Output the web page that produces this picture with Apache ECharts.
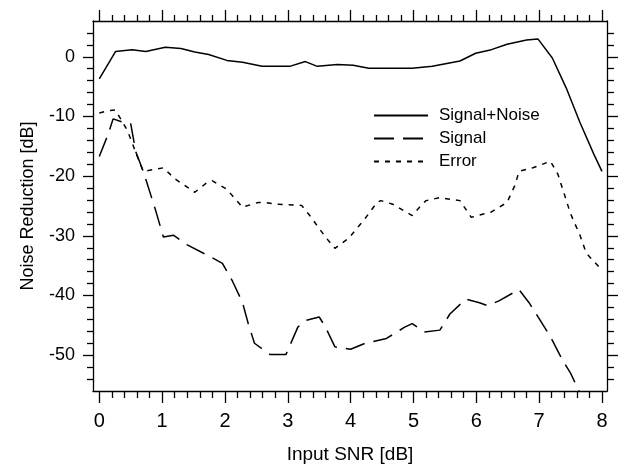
<!DOCTYPE html>
<html>
<head>
<meta charset="utf-8">
<script src="https://cdn.jsdelivr.net/npm/echarts@6/dist/echarts.min.js"></script>
<style>
  html, body { margin: 0; padding: 0; background: #fff; }
  #chart { width: 622px; height: 471px; }
</style>
</head>
<body>
<div id="chart"></div>
<script>
// Courbes (x = Input SNR, y = Noise Reduction)
const snX = [0, 0.26, 0.52, 0.74, 1.05, 1.3, 1.52, 1.74, 2.03, 2.28, 2.59, 3.03, 3.28, 3.47, 3.79, 4.04, 4.29, 4.6, 4.98, 5.3, 5.74, 5.99, 6.24, 6.49, 6.8, 6.98, 7.21, 7.43, 7.65, 7.87, 8.0];
const snY = [-3.7, 0.9, 1.2, 0.9, 1.6, 1.4, 0.8, 0.4, -0.6, -0.9, -1.6, -1.6, -0.8, -1.6, -1.3, -1.4, -1.9, -1.9, -1.9, -1.6, -0.7, 0.6, 1.2, 2.1, 2.8, 3.0, -0.2, -5.2, -11.0, -16.3, -19.2];

const sigX = [0, 0.14, 0.22, 0.36, 0.5, 0.58, 0.7, 0.89, 1.02, 1.18, 1.4, 1.71, 1.96, 2.12, 2.28, 2.37, 2.47, 2.72, 2.97, 3.16, 3.28, 3.5, 3.6, 3.75, 4.0, 4.23, 4.57, 4.86, 4.98, 5.17, 5.42, 5.58, 5.83, 6.05, 6.18, 6.36, 6.68, 6.84, 7.18, 7.37, 7.5, 7.7];
const sigY = [-16.7, -13, -10.4, -10.9, -11.2, -15.9, -19.2, -25.5, -30.2, -29.9, -31.5, -33.2, -34.6, -37.6, -41.2, -44.7, -48.0, -49.9, -49.9, -45.3, -44.2, -43.6, -45.3, -48.6, -49.0, -48.0, -47.2, -45.3, -44.7, -46.1, -45.8, -43.1, -40.6, -41.2, -41.7, -40.9, -39.0, -41.2, -46.9, -50.8, -53.0, -57.5];

const errX = [0, 0.15, 0.25, 0.3, 0.45, 0.58, 0.7, 1.02, 1.21, 1.52, 1.71, 1.8, 2.03, 2.28, 2.53, 2.62, 2.84, 3.22, 3.35, 3.6, 3.75, 3.97, 4.23, 4.42, 4.48, 4.67, 4.98, 5.14, 5.2, 5.42, 5.74, 5.92, 6.24, 6.49, 6.62, 6.68, 6.9, 7.18, 7.3, 7.4, 7.5, 7.65, 7.75, 7.97];
const errY = [-9.4, -9.0, -8.9, -9.7, -12.4, -16, -19.2, -18.6, -20.5, -22.7, -21.1, -20.8, -22.2, -25.2, -24.4, -24.4, -24.7, -24.9, -26.6, -30.2, -32.1, -30.4, -27.1, -24.4, -24.1, -24.7, -26.6, -24.7, -24.1, -23.6, -24.1, -26.9, -26, -24.4, -21.4, -19.2, -18.6, -17.5, -19.7, -23, -26.3, -29.9, -32.9, -35.4];

const seriesNames = ['Signal+Noise', 'Signal', 'Error'];

// Graduations
const xTicks = [0, 1, 2, 3, 4, 5, 6, 7, 8];
const yTicks = [0, -10, -20, -30, -40, -50];
const xMinor = [];
for (let i = 1; i < 40; i++) if (i % 5) xMinor.push(i / 5);
const yMinor = [];
for (let v = -54; v <= 4; v += 2) if (v % 10) yMinor.push(v);

const FONT = '"Liberation Sans", Arial, Helvetica, sans-serif';
const X_RANGE = [-0.1, 8.08];
const Y_RANGE = [-56, 6];

const pairs = (xs, ys) => xs.map((x, i) => [x, ys[i]]);

// Un axe x (haut ou bas) avec des graduations personnalisées
function xAxisAt(position, ticks, len, withLine, withLabels) {
    return {
        type: 'value', position: position,
        min: X_RANGE[0], max: X_RANGE[1],
        axisLine: { show: withLine, onZero: false, lineStyle: { color: '#000', width: 1.3 } },
        axisTick: { show: true, customValues: ticks, length: len, lineStyle: { color: '#000', width: 1.3 } },
        axisLabel: withLabels
            ? { show: true, customValues: ticks, margin: 20, color: '#000', fontSize: 20, fontFamily: FONT }
            : { show: false },
        splitLine: { show: false },
        name: withLabels ? 'Input SNR [dB]' : '',
        nameLocation: 'middle', nameGap: 54,
        nameTextStyle: { color: '#000', fontSize: 19, fontFamily: FONT }
    };
}

function yAxisAt(position, ticks, len, withLine, withLabels) {
    return {
        type: 'value', position: position,
        min: Y_RANGE[0], max: Y_RANGE[1],
        axisLine: { show: withLine, onZero: false, lineStyle: { color: '#000', width: 1.3 } },
        axisTick: { show: true, customValues: ticks, length: len, lineStyle: { color: '#000', width: 1.3 } },
        axisLabel: withLabels
            ? { show: true, customValues: ticks, margin: 18, color: '#000', fontSize: 18, fontFamily: FONT }
            : { show: false },
        splitLine: { show: false },
        name: withLabels ? 'Noise Reduction [dB]' : '',
        nameLocation: 'middle', nameGap: 56,
        nameTextStyle: { color: '#000', fontSize: 18, fontFamily: FONT }
    };
}

function lineSeries(name, data, dash) {
    return {
        name: name, type: 'line', data: data,
        xAxisIndex: 0, yAxisIndex: 0,
        symbol: 'none', smooth: false, clip: true,
        lineStyle: { color: '#000', width: 1.5, type: dash },
        itemStyle: { color: '#000' }
    };
}

const chart = echarts.init(document.getElementById('chart'), null, { renderer: 'canvas' });
chart.setOption({
    animation: false,
    backgroundColor: '#fff',
    grid: { left: 93, right: 15, top: 21, bottom: 80, containLabel: false },
    legend: {
        orient: 'vertical', left: 368, top: 102,
        itemWidth: 54, itemHeight: 14, itemGap: 6,
        data: seriesNames,
        itemStyle: { color: 'rgba(0,0,0,0)', borderWidth: 0, opacity: 0 },
        textStyle: { color: '#000', fontSize: 17, fontFamily: FONT, padding: [0, 0, 0, 6] }
    },
    xAxis: [
        xAxisAt('bottom', xTicks, 12, true, true),
        xAxisAt('bottom', xMinor, 7, false, false),
        xAxisAt('top', xTicks, 11, true, false),
        xAxisAt('top', xMinor, 6, false, false)
    ],
    yAxis: [
        yAxisAt('left', yTicks, 10, true, true),
        yAxisAt('left', yMinor, 6, false, false),
        yAxisAt('right', yTicks, 11, true, false),
        yAxisAt('right', yMinor, 7, false, false)
    ],
    series: [
        lineSeries(seriesNames[0], pairs(snX, snY), 'solid'),
        lineSeries(seriesNames[1], pairs(sigX, sigY), [20, 9]),
        lineSeries(seriesNames[2], pairs(errX, errY), [5, 6])
    ]
});
</script>
</body>
</html>
